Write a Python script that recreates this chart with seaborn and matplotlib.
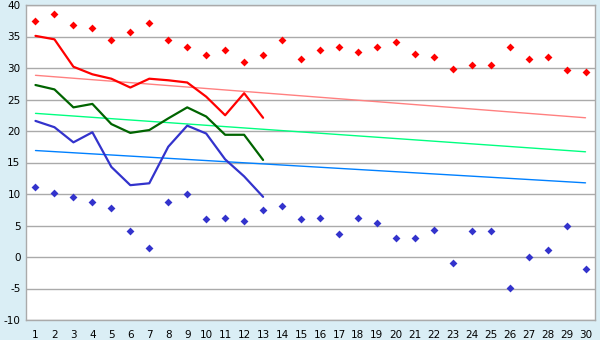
import numpy as np
import pandas as pd
import matplotlib
matplotlib.use("Agg")
import matplotlib.pyplot as plt
import seaborn as sns

days = list(range(1, 31))
max_pts = [37.4, 38.5, 36.8, 36.4, 34.4, 35.65, 37.1, 34.4, 33.3, 32.0,
           32.9, 31.0, 32.0, 34.5, 31.35, 32.9, 33.4, 32.5, 33.3, 34.05,
           32.15, 31.7, 29.9, 30.55, 30.55, 33.3, 31.5, 31.8, 29.75, 29.3]
min_pts = [11.1, 10.2, 9.55, 8.75, 7.8, 4.1, 1.4, 8.75, 10.0, 6.05,
           6.2, 5.7, 7.5, 8.1, 6.05, 6.2, 3.65, 6.2, 5.4, 3.0,
           3.0, 4.3, -0.95, 4.1, 4.1, -4.9, 0.0, 1.1, 4.9, -1.9]
line_days = list(range(1, 14))
red_line = [35.1, 34.55, 30.2, 29.0, 28.3, 26.9, 28.3, 28.05, 27.7, 25.45, 22.5, 26.0, 22.1]
green_line = [27.3, 26.6, 23.75, 24.3, 21.1, 19.7, 20.15, 22.0, 23.75, 22.3, 19.4, 19.4, 15.4]
blue_line = [21.6, 20.6, 18.2, 19.8, 14.3, 11.4, 11.7, 17.5, 20.85, 19.6, 15.5, 12.8, 9.55]
trend_days = [1, 30]
red_trend = [28.84, 22.1]
green_trend = [22.8, 16.7]
blue_trend = [16.9, 11.77]
y_ticks = [-10, -5, 0, 5, 10, 15, 20, 25, 30, 35, 40]

sns.set_theme(style="white")
plt.rcParams['font.family'] = ['DejaVu Sans']
plt.rcParams['axes.unicode_minus'] = False

fig = plt.figure(figsize=(6, 3.4), dpi=100)
fig.patch.set_facecolor("#daeef5")
ax = fig.add_axes([26/600, 1-320/340, (595-26)/600, (320-5)/340])
ax.set_facecolor("white")

pts = pd.DataFrame({"day": days, "max": max_pts, "min": min_pts})
lines = pd.DataFrame({"day": line_days, "red": red_line, "green": green_line, "blue": blue_line})
trends = pd.DataFrame({"day": trend_days, "red": red_trend, "green": green_trend, "blue": blue_trend})

sns.lineplot(data=trends, x="day", y="red", ax=ax, color="#ff8080", lw=1.0)
sns.lineplot(data=trends, x="day", y="green", ax=ax, color="#00ff80", lw=1.0)
sns.lineplot(data=trends, x="day", y="blue", ax=ax, color="#0080ff", lw=1.0)

sns.lineplot(data=lines, x="day", y="red", ax=ax, color="#ff0000", lw=1.6)
sns.lineplot(data=lines, x="day", y="green", ax=ax, color="#006400", lw=1.6)
sns.lineplot(data=lines, x="day", y="blue", ax=ax, color="#3333cc", lw=1.6)

sns.scatterplot(data=pts, x="day", y="max", ax=ax, color="#ff0000", marker="D", s=16, linewidth=0)
sns.scatterplot(data=pts, x="day", y="min", ax=ax, color="#3333cc", marker="D", s=16, linewidth=0)

ax.set_xlim(0.5, 30.5)
ax.set_ylim(-10, 40)
ax.set_xticks(days)
ax.set_yticks(y_ticks)
ax.set_xlabel("")
ax.set_ylabel("")
ax.yaxis.grid(True, color="#aaaaaa", lw=1)
ax.xaxis.grid(False)
ax.set_axisbelow(True)
for s in ax.spines.values():
    s.set_color("#aaaaaa")
    s.set_linewidth(1)
ax.tick_params(axis="both", labelsize=7.5, labelcolor="#000000", color="#333333", width=1)
ax.tick_params(axis="x", direction="out", length=5, pad=2)
ax.tick_params(axis="y", direction="out", length=3, pad=1)

fig.savefig("out.png", dpi=100, facecolor=fig.get_facecolor())
